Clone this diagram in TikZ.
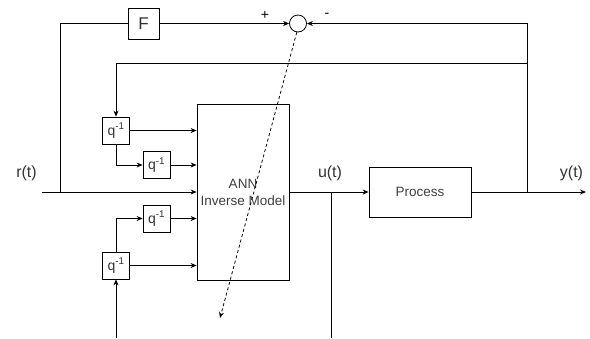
\documentclass[tikz,border=0pt]{standalone}
\usepackage{fontspec}
\setmainfont{Liberation Sans}
\usetikzlibrary{arrows.meta,positioning,calc}

\begin{document}
\begin{tikzpicture}[x=1pt, y=-1pt, line width=0.8pt, >={Stealth[length=6pt,width=5pt]},
    blk/.style={draw, minimum width=27pt, minimum height=27pt, inner sep=0pt, text=black!80,
        font=\fontsize{14}{16}\selectfont},
    lbl/.style={inner sep=0pt, text=black!80, font=\fontsize{16}{18}\selectfont}]
    \useasboundingbox (0,0) rectangle (590,338);
    \node[blk, minimum width=31pt, minimum height=31pt, font=\fontsize{17}{19}\selectfont] (F) at (143.5,23.5) {F};
    \node[draw, circle, minimum size=17pt, inner sep=0pt] (sum) at (298,23.5) {};
    \node[blk] (d1) at (116,130.5) {q\textsuperscript{-1}};
    \node[blk] (d2) at (156.5,165) {q\textsuperscript{-1}};
    \node[blk] (d3) at (156.5,218.5) {q\textsuperscript{-1}};
    \node[blk] (d4) at (116,265.5) {q\textsuperscript{-1}};
    \node[draw, minimum width=92pt, minimum height=176pt, align=center, text=black!75,
        font=\fontsize{13.5}{17}\selectfont] (ann) at (243,192) {ANN\\Inverse Model};
    \node[draw, minimum width=102pt, minimum height=50pt, text=black!75,
        font=\fontsize{13.5}{15}\selectfont] (proc) at (420,192) {Process};
    \coordinate (rin) at (42,192);
    \coordinate (rsplit) at (60,192);
    \coordinate (usplit) at (331,192);
    \coordinate (ubot) at (331,338);
    \coordinate (ysplit) at (527,192);
    \coordinate (yout) at (586,192);
    \coordinate (fbmid) at (527,63);
    \coordinate (fbin) at (116,338);
    \coordinate (tip) at (220,318);
    \node[lbl] (rlab) at (26.5,173) {r(t)};
    \node[lbl] (ulab) at (330,173) {u(t)};
    \node[lbl] (ylab) at (571.5,173) {y(t)};
    \node[font=\fontsize{14}{16}\selectfont, inner sep=0pt] (plus) at (265,15) {+};
    \node[font=\fontsize{14}{16}\selectfont, inner sep=0pt] (minus) at (327,15) {-};
    \draw (rsplit) |- (F);
    \draw[->] (F) -- (sum);
    \draw[->] (ysplit) |- (sum);
    \draw[->] (fbmid) -| (d1);
    \draw[->] (d1) -- (d1 -| ann.west);
    \draw[->] (d1) |- (d2);
    \draw[->] (d2) -- (d2 -| ann.west);
    \draw[->] (rin) -- (rin -| ann.west);
    \draw[->] (d4) |- (d3);
    \draw[->] (d3) -- (d3 -| ann.west);
    \draw[->] (d4) -- (d4 -| ann.west);
    \draw[->] (fbin) -- (d4);
    \draw[->] (ann.east |- proc) -- (proc);
    \draw (usplit) -- (ubot);
    \draw[->] (proc) -- (yout);
    \draw[->, dash pattern=on 3pt off 2.5pt] (sum.262) -- (tip);
\end{tikzpicture}
\end{document}
